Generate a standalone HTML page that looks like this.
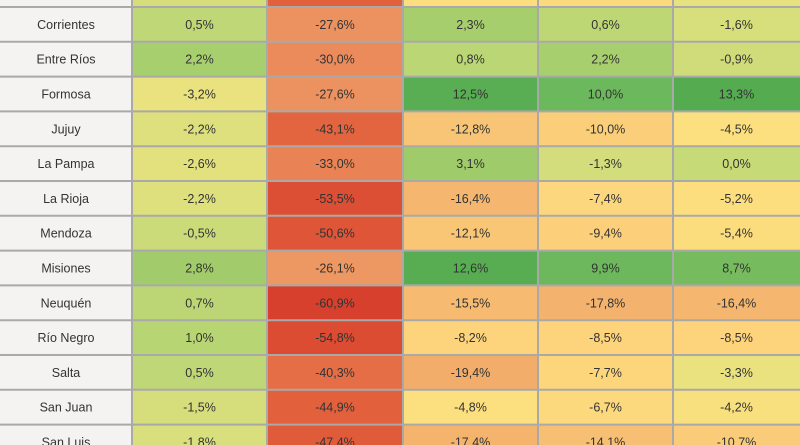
<!DOCTYPE html>
<html><head><meta charset="utf-8"><style>
html,body{margin:0;padding:0;width:800px;height:445px;overflow:hidden;background:#fff;font-family:"Liberation Sans",sans-serif}
svg{display:block}
</style></head><body>
<svg id="chart" width="800" height="445"></svg>
<script>
const provinces=["Córdoba","Corrientes","Entre Ríos","Formosa","Jujuy","La Pampa","La Rioja","Mendoza","Misiones","Neuquén","Río Negro","Salta","San Juan","San Luis"];
const col1=[-1.5,0.5,2.2,-3.2,-2.2,-2.6,-2.2,-0.5,2.8,0.7,1.0,0.5,-1.5,-1.8];
const col2=[-45.0,-27.6,-30.0,-27.6,-43.1,-33.0,-53.5,-50.6,-26.1,-60.9,-54.8,-40.3,-44.9,-47.4];
const col3=[-5.0,2.3,0.8,12.5,-12.8,3.1,-16.4,-12.1,12.6,-15.5,-8.2,-19.4,-4.8,-17.4];
const col4=[-6.0,0.6,2.2,10.0,-10.0,-1.3,-7.4,-9.4,9.9,-17.8,-8.5,-7.7,-6.7,-14.1];
const col5=[-3.0,-1.6,-0.9,13.3,-4.5,0.0,-5.2,-5.4,8.7,-16.4,-8.5,-3.3,-4.2,-10.7];
const series=[col1,col2,col3,col4,col5];
const stops=[[-61,[214,64,45]],[-45,[226,96,60]],[-28,[236,145,96]],[-17,[244,181,110]],[-8,[253,213,124]],[-4.5,[252,224,127]],[-3,[230,226,127]],[0,[198,218,120]],[2.5,[164,205,108]],[10,[108,184,92]],[13,[85,171,80]]];
function color(v){
  if(v<=stops[0][0])return 'rgb('+stops[0][1]+')';
  for(let i=1;i<stops.length;i++){
    if(v<=stops[i][0]){const a=stops[i-1],b=stops[i];const t=(v-a[0])/(b[0]-a[0]);
      return 'rgb('+a[1].map((c,k)=>Math.round(c+(b[1][k]-c)*t)).join(',')+')';}
  }
  return 'rgb('+stops[stops.length-1][1]+')';
}
const colX=[0,132,267,403,538,673,800];
const rowH=34.8, top0=7-rowH;
function rowY(i){return top0+i*rowH;}
function fmt(v){return v.toFixed(1).replace('.',',')+'%';}
const svg=document.getElementById('chart');
const NS='http://www.w3.org/2000/svg';
function mk(t,a){const e=document.createElementNS(NS,t);for(const k in a)e.setAttribute(k,a[k]);svg.appendChild(e);return e;}
provinces.forEach((p,i)=>{
  const y=rowY(i);
  const lc=mk('rect',{x:0,y:y,width:132,height:rowH,fill:'#f5f2f2'});
  
  
  const lt=mk('text',{x:66,y:y+rowH/2+4.5,'text-anchor':'middle','font-size':'12.5',fill:'#333'});
  lt.textContent=p;
  
  
  series.forEach((s,j)=>{
    const c=mk('rect',{x:colX[j+1],y:y,width:colX[j+2]-colX[j+1],height:rowH,fill:color(s[i])});
    
    
    const t=mk('text',{x:(colX[j+1]+colX[j+2])/2,y:y+rowH/2+4.5,'text-anchor':'middle','font-size':'12.5',fill:'#333'});
    t.textContent=fmt(s[i]);
    
    
  });
});
for(let i=0;i<=provinces.length;i++){
  const l=mk('line',{x1:0,x2:800,y1:rowY(i),y2:rowY(i),stroke:'#a9a9a9','stroke-width':2});
  
  
}
colX.slice(1,6).forEach(x=>{
  const l=mk('line',{x1:x,x2:x,y1:0,y2:445,stroke:'#a9a9a9','stroke-width':2});
  
  
});
</script>
</body></html>
